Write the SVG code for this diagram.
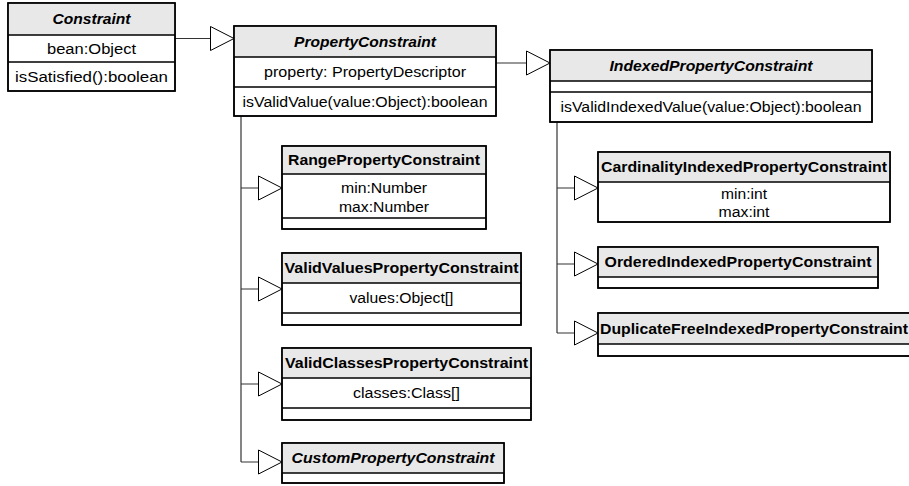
<svg xmlns="http://www.w3.org/2000/svg" width="909" height="486" viewBox="0 0 909 486">
<style>
.box{fill:#fff;stroke:#000;stroke-width:1.5}
.hdr{fill:#e8e8e8;stroke:none}
.sep{stroke:#000;stroke-width:1.5;fill:none}
.t{font-family:"Liberation Sans",Arial,Helvetica,sans-serif;font-size:14px;text-anchor:middle;fill:#000}
.b{font-weight:bold}
.i{font-style:italic}
.conn{stroke:#333;stroke-width:1.2;fill:none}
.gen{marker-end:url(#tri)}
</style>
<defs>
<marker id="tri" markerUnits="userSpaceOnUse" viewBox="-1 -1 26 26" markerWidth="26" markerHeight="26" refX="23.5" refY="12" orient="auto">
<path d="M0,0 L23.5,12 L0,24 Z" fill="#fff" stroke="#000" stroke-width="1"/>
</marker>
</defs>
<rect width="909" height="486" fill="#fff"/>
<g id="connectors">
<path class="conn gen" d="M175,38.5 H234"/>
<path class="conn gen" d="M496,63 H550"/>
<path class="conn" d="M241,116 V462"/>
<path class="conn gen" d="M241,188 H282"/>
<path class="conn gen" d="M241,289 H282"/>
<path class="conn gen" d="M241,384 H282"/>
<path class="conn gen" d="M241,462 H282"/>
<path class="conn" d="M557,122 V333"/>
<path class="conn gen" d="M557,188 H598"/>
<path class="conn gen" d="M557,264 H598"/>
<path class="conn gen" d="M557,333 H598"/>
</g>
<g id="Constraint">
<rect class="box" x="8" y="3" width="167" height="88"/>
<rect class="hdr" x="8.75" y="3.75" width="165.5" height="31.25"/>
<path class="sep" d="M8,35 H175 M8,62 H175"/>
<rect class="box" x="8" y="3" width="167" height="88" style="fill:none"/>
<text class="t b i" x="91.5" y="24" textLength="78" lengthAdjust="spacingAndGlyphs">Constraint</text>
<text class="t" x="91.5" y="53.5" textLength="89" lengthAdjust="spacingAndGlyphs">bean:Object</text>
<text class="t" x="91.5" y="81.5" textLength="153" lengthAdjust="spacingAndGlyphs">isSatisfied():boolean</text>
</g>
<g id="PropertyConstraint">
<rect class="box" x="234" y="26" width="262" height="90"/>
<rect class="hdr" x="234.75" y="26.75" width="260.5" height="30.25"/>
<path class="sep" d="M234,57 H496 M234,87 H496"/>
<rect class="box" x="234" y="26" width="262" height="90" style="fill:none"/>
<text class="t b i" x="365" y="46.5" textLength="142" lengthAdjust="spacingAndGlyphs">PropertyConstraint</text>
<text class="t" x="365" y="77" textLength="202" lengthAdjust="spacingAndGlyphs">property: PropertyDescriptor</text>
<text class="t" x="365" y="107" textLength="245" lengthAdjust="spacingAndGlyphs">isValidValue(value:Object):boolean</text>
</g>
<g id="IndexedPropertyConstraint">
<rect class="box" x="550" y="50" width="322" height="72"/>
<rect class="hdr" x="550.75" y="50.75" width="320.5" height="30.25"/>
<path class="sep" d="M550,81 H872 M550,92 H872"/>
<rect class="box" x="550" y="50" width="322" height="72" style="fill:none"/>
<text class="t b i" x="711" y="70.5" textLength="203" lengthAdjust="spacingAndGlyphs">IndexedPropertyConstraint</text>
<text class="t" x="711" y="112" textLength="301" lengthAdjust="spacingAndGlyphs">isValidIndexedValue(value:Object):boolean</text>
</g>
<g id="RangePropertyConstraint">
<rect class="box" x="282" y="146" width="204" height="83"/>
<rect class="hdr" x="282.75" y="146.75" width="202.5" height="27.25"/>
<path class="sep" d="M282,174 H486 M282,218 H486"/>
<rect class="box" x="282" y="146" width="204" height="83" style="fill:none"/>
<text class="t b" x="384" y="165" textLength="192" lengthAdjust="spacingAndGlyphs">RangePropertyConstraint</text>
<text class="t" x="384" y="193" textLength="86" lengthAdjust="spacingAndGlyphs">min:Number</text>
<text class="t" x="384" y="212" textLength="90" lengthAdjust="spacingAndGlyphs">max:Number</text>
</g>
<g id="ValidValuesPropertyConstraint">
<rect class="box" x="282" y="253" width="239" height="72"/>
<rect class="hdr" x="282.75" y="253.75" width="237.5" height="29.25"/>
<path class="sep" d="M282,283 H521 M282,313 H521"/>
<rect class="box" x="282" y="253" width="239" height="72" style="fill:none"/>
<text class="t b" x="401.5" y="273" textLength="234" lengthAdjust="spacingAndGlyphs">ValidValuesPropertyConstraint</text>
<text class="t" x="401.5" y="303" textLength="104" lengthAdjust="spacingAndGlyphs">values:Object[]</text>
</g>
<g id="ValidClassesPropertyConstraint">
<rect class="box" x="282" y="348" width="249" height="72"/>
<rect class="hdr" x="282.75" y="348.75" width="247.5" height="29.25"/>
<path class="sep" d="M282,378 H531 M282,408 H531"/>
<rect class="box" x="282" y="348" width="249" height="72" style="fill:none"/>
<text class="t b" x="406.5" y="368" textLength="243" lengthAdjust="spacingAndGlyphs">ValidClassesPropertyConstraint</text>
<text class="t" x="406.5" y="398" textLength="107" lengthAdjust="spacingAndGlyphs">classes:Class[]</text>
</g>
<g id="CustomPropertyConstraint">
<rect class="box" x="282" y="443" width="222" height="40"/>
<rect class="hdr" x="282.75" y="443.75" width="220.5" height="29.25"/>
<path class="sep" d="M282,473 H504"/>
<rect class="box" x="282" y="443" width="222" height="40" style="fill:none"/>
<text class="t b i" x="393" y="463" textLength="203" lengthAdjust="spacingAndGlyphs">CustomPropertyConstraint</text>
</g>
<g id="CardinalityIndexedPropertyConstraint">
<rect class="box" x="598" y="152" width="292" height="70"/>
<rect class="hdr" x="598.75" y="152.75" width="290.5" height="29.25"/>
<path class="sep" d="M598,182 H890"/>
<rect class="box" x="598" y="152" width="292" height="70" style="fill:none"/>
<text class="t b" x="744" y="172" textLength="286" lengthAdjust="spacingAndGlyphs">CardinalityIndexedPropertyConstraint</text>
<text class="t" x="744" y="199" textLength="46" lengthAdjust="spacingAndGlyphs">min:int</text>
<text class="t" x="744" y="217" textLength="51" lengthAdjust="spacingAndGlyphs">max:int</text>
</g>
<g id="OrderedIndexedPropertyConstraint">
<rect class="box" x="598" y="247" width="280" height="41"/>
<rect class="hdr" x="598.75" y="247.75" width="278.5" height="29.25"/>
<path class="sep" d="M598,277 H878"/>
<rect class="box" x="598" y="247" width="280" height="41" style="fill:none"/>
<text class="t b" x="738" y="267" textLength="267" lengthAdjust="spacingAndGlyphs">OrderedIndexedPropertyConstraint</text>
</g>
<g id="DuplicateFreeIndexedPropertyConstraint">
<rect class="box" x="598" y="313" width="316" height="43"/>
<rect class="hdr" x="598.75" y="313.75" width="314.5" height="30.25"/>
<path class="sep" d="M598,344 H914"/>
<rect class="box" x="598" y="313" width="316" height="43" style="fill:none"/>
<text class="t b" x="754" y="333.5" textLength="308" lengthAdjust="spacingAndGlyphs">DuplicateFreeIndexedPropertyConstraint</text>
</g>
</svg>
